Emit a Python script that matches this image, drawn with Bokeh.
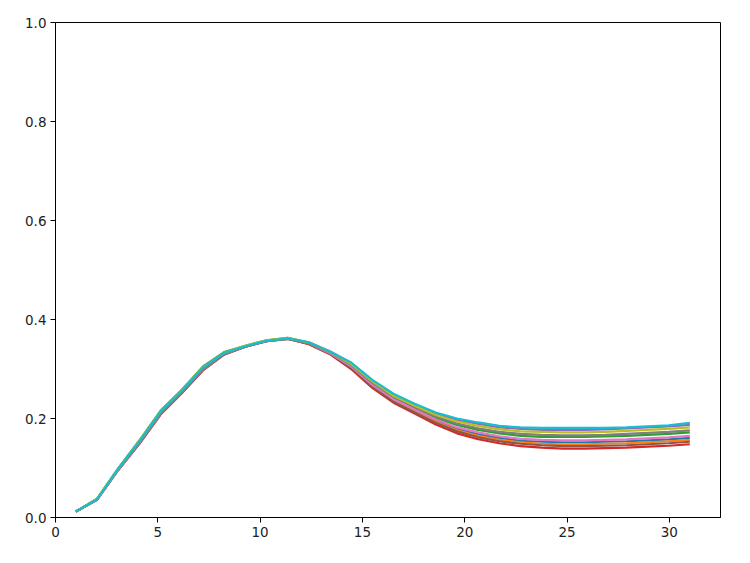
import numpy as np
from bokeh.plotting import figure
from bokeh.models import Range1d, FixedTicker, PrintfTickFormatter
from bokeh.embed import file_html
from bokeh.resources import INLINE

# x positions: 30 samples between 1 and 31
x_start, x_end, n_points = 1, 31, 30
x = np.linspace(x_start, x_end, n_points)

# series values (drawn in this order)
series_blue = [0.012, 0.037, 0.098, 0.153, 0.213, 0.256, 0.302, 0.332, 0.346, 0.357, 0.362, 0.352, 0.332,
               0.304, 0.267, 0.237, 0.216, 0.195, 0.179, 0.168, 0.161, 0.155, 0.153, 0.152, 0.152, 0.153, 0.154, 0.156, 0.158, 0.161]
series_orange = [0.012, 0.037, 0.098, 0.153, 0.213, 0.255, 0.302, 0.332, 0.346, 0.357, 0.362, 0.351, 0.331,
                 0.303, 0.265, 0.236, 0.214, 0.193, 0.176, 0.165, 0.157, 0.152, 0.149, 0.148, 0.148, 0.149, 0.150, 0.152, 0.154, 0.157]
series_green = [0.012, 0.038, 0.099, 0.156, 0.216, 0.258, 0.305, 0.334, 0.347, 0.358, 0.363, 0.353, 0.334,
                0.307, 0.271, 0.242, 0.221, 0.201, 0.187, 0.177, 0.170, 0.165, 0.163, 0.163, 0.163, 0.164, 0.165, 0.167, 0.169, 0.172]
series_red = [0.012, 0.036, 0.096, 0.149, 0.208, 0.251, 0.297, 0.329, 0.345, 0.356, 0.361, 0.350, 0.330,
              0.300, 0.262, 0.232, 0.210, 0.188, 0.170, 0.158, 0.150, 0.144, 0.141, 0.139, 0.139, 0.140, 0.141, 0.143, 0.145, 0.148]
series_purple = [0.012, 0.036, 0.096, 0.150, 0.209, 0.252, 0.298, 0.330, 0.345, 0.356, 0.362, 0.354, 0.336,
                 0.312, 0.277, 0.248, 0.228, 0.210, 0.197, 0.189, 0.182, 0.179, 0.177, 0.177, 0.177, 0.178, 0.180, 0.182, 0.184, 0.187]
series_brown = [0.012, 0.037, 0.097, 0.151, 0.210, 0.253, 0.299, 0.330, 0.345, 0.356, 0.361, 0.351, 0.331,
                0.302, 0.264, 0.234, 0.212, 0.191, 0.174, 0.162, 0.154, 0.149, 0.146, 0.144, 0.144, 0.145, 0.146, 0.148, 0.150, 0.153]
series_pink = [0.012, 0.037, 0.097, 0.151, 0.211, 0.254, 0.300, 0.331, 0.346, 0.357, 0.362, 0.352, 0.332,
               0.305, 0.268, 0.239, 0.218, 0.198, 0.182, 0.172, 0.164, 0.159, 0.157, 0.156, 0.156, 0.157, 0.158, 0.160, 0.162, 0.165]
series_grey = [0.012, 0.037, 0.097, 0.151, 0.210, 0.253, 0.299, 0.330, 0.345, 0.356, 0.361, 0.352, 0.334,
               0.308, 0.272, 0.244, 0.223, 0.204, 0.190, 0.180, 0.173, 0.169, 0.167, 0.166, 0.166, 0.167, 0.169, 0.171, 0.173, 0.176]
series_olive = [0.012, 0.038, 0.099, 0.155, 0.215, 0.257, 0.304, 0.333, 0.347, 0.358, 0.363, 0.354, 0.335,
                0.310, 0.275, 0.246, 0.226, 0.207, 0.194, 0.185, 0.178, 0.174, 0.173, 0.172, 0.172, 0.173, 0.175, 0.177, 0.179, 0.182]
series_cyan = [0.012, 0.037, 0.099, 0.154, 0.214, 0.256, 0.303, 0.333, 0.346, 0.357, 0.362, 0.354, 0.335,
               0.313, 0.278, 0.250, 0.230, 0.212, 0.200, 0.192, 0.185, 0.182, 0.181, 0.181, 0.181, 0.181, 0.182, 0.184, 0.186, 0.191]

all_series = [series_blue, series_orange, series_green, series_red, series_purple,
              series_brown, series_pink, series_grey, series_olive, series_cyan]
colors = ["#1f77b4", "#ff7f0e", "#2ca02c", "#d62728", "#9467bd",
          "#8c564b", "#e377c2", "#7f7f7f", "#bcbd22", "#17becf"]

x_ticks = [0, 5, 10, 15, 20, 25, 30]
y_ticks = [0.0, 0.2, 0.4, 0.6, 0.8, 1.0]

p = figure(width=742, height=555, output_backend="svg", toolbar_location=None,
           x_range=Range1d(0, 32.5), y_range=Range1d(0, 1.0),
           min_border_left=55, min_border_right=22, min_border_top=22, min_border_bottom=38)

for ys, c in zip(all_series, colors):
    p.line(x, ys, line_color=c, line_width=2.2)

p.grid.visible = False
p.outline_line_color = "black"
p.outline_line_width = 1
p.background_fill_color = "white"
p.border_fill_color = "white"

for ax in (p.xaxis, p.yaxis):
    ax.axis_line_color = "black"
    ax.major_tick_line_color = "black"
    ax.major_tick_out = 5
    ax.major_tick_in = 0
    ax.minor_tick_line_color = None
    ax.major_label_text_font = "DejaVu Sans"
    ax.major_label_text_font_size = "13.5px"
    ax.major_label_text_color = "#222222"
    ax.major_label_standoff = 4

p.xaxis.ticker = FixedTicker(ticks=x_ticks)
p.yaxis.ticker = FixedTicker(ticks=y_ticks)
p.yaxis.formatter = PrintfTickFormatter(format="%.1f")

open("out.html", "w").write(file_html(p, INLINE))
